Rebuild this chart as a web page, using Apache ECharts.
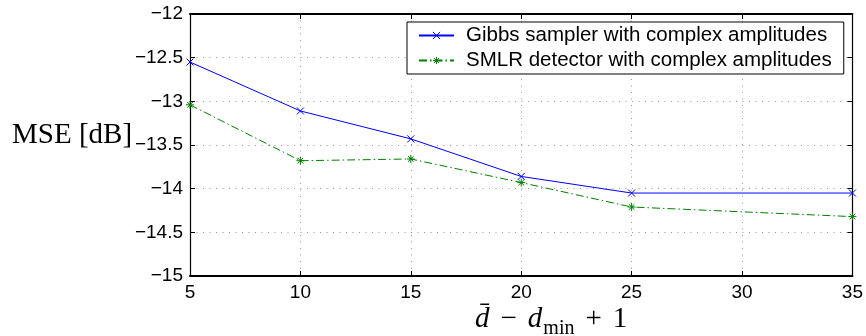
<!DOCTYPE html>
<html>
<head>
<meta charset="utf-8">
<script src="https://cdn.jsdelivr.net/npm/echarts@6/dist/echarts.min.js"></script>
<style>html,body{margin:0;padding:0;background:#fff;}#c{width:866px;height:336px;}</style>
</head>
<body>
<div id="c"></div>
<script>
var xValues = [5, 10, 15, 20, 25, 35];
var gibbs = [-12.55, -13.11, -13.43, -13.86, -14.05, -14.05];
var smlr = [-13.04, -13.68, -13.66, -13.93, -14.21, -14.32];
var seriesNames = ['Gibbs sampler with complex amplitudes', 'SMLR detector with complex amplitudes'];

function pairs(xs, ys) { return xs.map(function (x, i) { return [x, ys[i]]; }); }
function fmt(v) { return String(v).replace('-', '\u2212'); }

var chart = echarts.init(document.getElementById('c'), null, {renderer: 'canvas'});
var tickFont = {fontFamily: 'Liberation Sans, Arial, sans-serif', fontSize: 19, color: '#000'};
var gridLine = {show: true, lineStyle: {color: '#999', width: 1, type: [1, 5.5]}};
var xLine = {show: true, onZero: false, lineStyle: {color: '#000', width: 2}};
var yLine = {show: true, onZero: false, lineStyle: {color: '#000', width: 1.2}};
var tick = {show: true, inside: true, length: 5, lineStyle: {color: '#000'}};

chart.setOption({
  animation: false,
  backgroundColor: '#fff',
  grid: {left: 190, top: 14, right: 12, bottom: 60},
  xAxis: [
    {type: 'value', min: 5, max: 35, interval: 5, position: 'bottom',
     axisLine: xLine, axisTick: tick, splitLine: gridLine,
     axisLabel: Object.assign({margin: 7, formatter: fmt}, tickFont)},
    {type: 'value', min: 5, max: 35, interval: 5, position: 'top',
     axisLine: xLine, axisTick: tick, splitLine: {show: false}, axisLabel: {show: false}}
  ],
  yAxis: [
    {type: 'value', min: -15, max: -12, interval: 0.5, position: 'left',
     axisLine: yLine, axisTick: tick, splitLine: gridLine,
     axisLabel: Object.assign({margin: 7, formatter: fmt}, tickFont)},
    {type: 'value', min: -15, max: -12, interval: 0.5, position: 'right',
     axisLine: yLine, axisTick: tick, splitLine: {show: false}, axisLabel: {show: false}}
  ],
  legend: {
    show: true,
    left: 407, top: 22,
    orient: 'vertical',
    backgroundColor: '#fff',
    borderColor: '#000', borderWidth: 1, borderRadius: 0,
    padding: [3, 12, 3, 11],
    itemWidth: 35, itemHeight: 9, itemGap: 4,
    itemStyle: {borderWidth: 1},
    textStyle: {fontFamily: 'Liberation Sans, Arial, sans-serif', fontSize: 20.5, color: '#000', padding: [0, 0, 0, 7]},
    data: seriesNames
  },
  series: [
    {name: seriesNames[0], type: 'line', data: pairs(xValues, gibbs),
     symbol: 'path://M0,0L10,10M10,0L0,10', symbolSize: 7, showAllSymbol: true,
     lineStyle: {color: '#0000ff', width: 1, type: 'solid'},
     itemStyle: {color: 'rgba(0,0,0,0)', borderColor: '#0000ff', borderWidth: 1}},
    {name: seriesNames[1], type: 'line', data: pairs(xValues, smlr),
     symbol: 'path://M5,0L5,10M0,5L10,5M1.5,1.5L8.5,8.5M8.5,1.5L1.5,8.5', symbolSize: 8, showAllSymbol: true,
     lineStyle: {color: '#008000', width: 1, type: [8, 3, 1.5, 3]},
     itemStyle: {color: 'rgba(0,0,0,0)', borderColor: '#008000', borderWidth: 1}}
  ],
  graphic: [
    {type: 'text', left: 12, top: 121,
     style: {text: 'MSE [dB]', font: '29px "Liberation Serif", "Times New Roman", serif', fill: '#000'}},
    {type: 'text', left: 475, top: 305,
     style: {
       text: '{i|d\u0304}{n|\u2212}{i|d}{s|min}{n|+}{r|1}',
       fill: '#000',
       rich: {
         i: {fontFamily: 'Liberation Serif, serif', fontStyle: 'italic', fontSize: 29, color: '#000'},
         n: {fontFamily: 'Liberation Serif, serif', fontSize: 29, color: '#000', padding: [0, 11, 0, 11]},
         r: {fontFamily: 'Liberation Serif, serif', fontSize: 29, color: '#000'},
         s: {fontFamily: 'Liberation Serif, serif', fontSize: 20, color: '#000', padding: [18, 0, 0, 1]}
       }
     }}
  ]
});
</script>
</body>
</html>
